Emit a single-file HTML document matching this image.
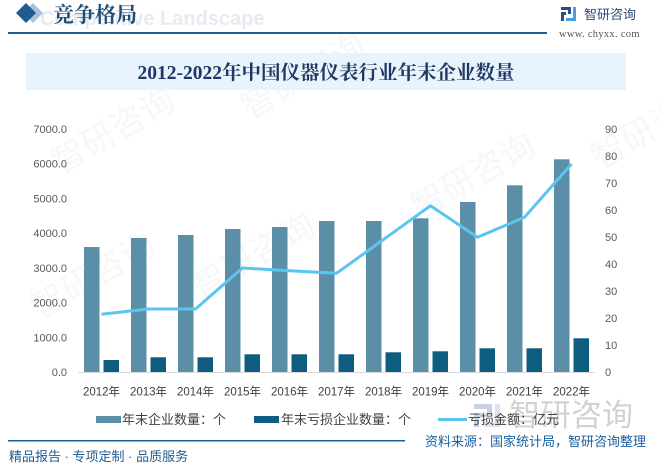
<!DOCTYPE html>
<html><head><meta charset="utf-8"><style>
html,body{margin:0;padding:0;background:#fff;}
svg{display:block;}
</style></head><body>
<svg width="660" height="465" viewBox="0 0 660 465" xmlns="http://www.w3.org/2000/svg">
<rect width="660" height="465" fill="#ffffff"/>
<!-- faint watermarks -->
<g opacity="0.05" fill="#2b5d9b" font-family="'Liberation Sans','Noto Sans CJK SC',sans-serif">
  <text x="60" y="175" font-size="34" transform="rotate(-30 60 175)">智研咨询</text>
  <text x="250" y="120" font-size="34" transform="rotate(-30 250 120)">智研咨询</text>
  <text x="420" y="220" font-size="34" transform="rotate(-30 420 220)">智研咨询</text>
  <text x="40" y="320" font-size="34" transform="rotate(-30 40 320)">智研咨询</text>
  <text x="200" y="300" font-size="34" transform="rotate(-30 200 300)">智研咨询</text>
  <text x="600" y="170" font-size="34" transform="rotate(-30 600 170)">智研咨询</text>
</g>
<!-- header -->
<text x="40" y="25" font-family="'Liberation Sans',sans-serif" font-weight="bold" font-size="20" fill="#e6ebf1">Competitive Landscape</text>
<path d="M33 3 L43 13 L33 23 L23 13 Z" fill="#a9c1dc"/>
<path d="M26 3 L36 13 L26 23 L16 13 Z" fill="#1f5c8f"/>
<rect x="50" y="2" width="94" height="26" fill="#ffffff" opacity="0"/>
<text x="53" y="22" font-family="'Noto Serif CJK SC',serif" font-weight="bold" font-size="21" fill="#1f4e79">竞争格局</text>
<rect x="8" y="32" width="539" height="2" fill="#1f5c8f"/>
<!-- logo top right -->
<g>
  <rect x="561" y="7" width="10" height="3" fill="#2a4f8f"/>
  <rect x="568" y="7" width="3" height="7" fill="#2a4f8f"/>
  <rect x="561" y="12" width="5" height="3" fill="#2a4f8f"/>
  <rect x="561" y="12" width="3" height="9" fill="#2a4f8f"/>
  <rect x="566" y="18" width="9" height="3" fill="#4a9ee0"/>
  <rect x="573" y="7" width="3" height="14" fill="#4a9ee0"/>
</g>
<text x="584" y="19" font-family="'Liberation Sans','Noto Sans CJK SC',sans-serif" font-size="13" fill="#2e4a7a">智研咨询</text>
<text x="559" y="37" font-family="'Liberation Serif',serif" font-size="10.5" fill="#555" letter-spacing="0.3">www. chyxx. com</text>
<!-- title box -->
<rect x="26" y="53" width="600" height="37" fill="#e9f3fb"/>
<text x="326" y="79" text-anchor="middle" font-family="'Liberation Serif','Noto Serif CJK SC',serif" font-weight="bold" font-size="19.5" fill="#1f3864">2012-2022年中国仪器仪表行业年末企业数量</text>
<!-- axes labels left -->
<g font-family="'Liberation Sans',sans-serif" font-size="11" fill="#595959" text-anchor="end">
  <text x="67" y="376">0.0</text>
  <text x="67" y="341.3">1000.0</text>
  <text x="67" y="306.6">2000.0</text>
  <text x="67" y="271.9">3000.0</text>
  <text x="67" y="237.2">4000.0</text>
  <text x="67" y="202.4">5000.0</text>
  <text x="67" y="167.7">6000.0</text>
  <text x="67" y="133">7000.0</text>
</g>
<g font-family="'Liberation Sans',sans-serif" font-size="11" fill="#595959">
  <text x="605" y="376">0</text>
  <text x="605" y="349">10</text>
  <text x="605" y="322">20</text>
  <text x="605" y="295">30</text>
  <text x="605" y="268">40</text>
  <text x="605" y="241">50</text>
  <text x="605" y="214">60</text>
  <text x="605" y="187">70</text>
  <text x="605" y="160">80</text>
  <text x="605" y="133">90</text>
</g>
<!-- bars big -->
<g fill="#5b8fa8">
  <rect x="84" y="247" width="15.5" height="125"/>
  <rect x="131" y="238" width="15.5" height="134"/>
  <rect x="178" y="235" width="15.5" height="137"/>
  <rect x="225" y="229" width="15.5" height="143"/>
  <rect x="272" y="227" width="15.5" height="145"/>
  <rect x="319" y="221" width="15.5" height="151"/>
  <rect x="366" y="221" width="15.5" height="151"/>
  <rect x="413" y="218.3" width="15.5" height="153.7"/>
  <rect x="460" y="202" width="15.5" height="170"/>
  <rect x="507" y="185.3" width="15.5" height="186.7"/>
  <rect x="554" y="159.3" width="15.5" height="212.7"/>
</g>
<g fill="#0e5c80">
  <rect x="103.5" y="360" width="15.5" height="12"/>
  <rect x="150.5" y="357.3" width="15.5" height="14.7"/>
  <rect x="197.5" y="357.3" width="15.5" height="14.7"/>
  <rect x="244.5" y="354.3" width="15.5" height="17.7"/>
  <rect x="291.5" y="354.3" width="15.5" height="17.7"/>
  <rect x="338.5" y="354.3" width="15.5" height="17.7"/>
  <rect x="385.5" y="352.3" width="15.5" height="19.7"/>
  <rect x="432.5" y="351.3" width="15.5" height="20.7"/>
  <rect x="479.5" y="348.3" width="15.5" height="23.7"/>
  <rect x="526.5" y="348.3" width="15.5" height="23.7"/>
  <rect x="573.5" y="338.3" width="15.5" height="33.7"/>
</g>
<line x1="78" y1="372.5" x2="595" y2="372.5" stroke="#d9d9d9" stroke-width="1"/>
<polyline fill="none" stroke="#5bc5f0" stroke-width="3" stroke-linejoin="round" points="101.5,314.3 148.5,309 195.5,309 242.5,268 289.5,270.7 336.5,273.3 383.5,239.5 430.5,205.7 477.5,237.3 524.5,217.3 571.5,164"/>
<!-- x labels -->
<g font-family="'Liberation Sans','Noto Sans CJK SC',sans-serif" font-size="11.5" fill="#404040" text-anchor="middle">
  <text x="101.5" y="395.5">2012年</text>
  <text x="148.5" y="395.5">2013年</text>
  <text x="195.5" y="395.5">2014年</text>
  <text x="242.5" y="395.5">2015年</text>
  <text x="289.5" y="395.5">2016年</text>
  <text x="336.5" y="395.5">2017年</text>
  <text x="383.5" y="395.5">2018年</text>
  <text x="430.5" y="395.5">2019年</text>
  <text x="477.5" y="395.5">2020年</text>
  <text x="524.5" y="395.5">2021年</text>
  <text x="571.5" y="395.5">2022年</text>
</g>
<!-- big watermark logo bottom right -->
<g opacity="0.5">
  <rect x="474" y="404" width="18" height="5" fill="#8fa6c8"/>
  <rect x="487" y="404" width="5" height="11" fill="#8fa6c8"/>
  <rect x="474" y="413" width="9" height="4" fill="#8fa6c8"/>
  <rect x="474" y="413" width="5" height="14" fill="#8fa6c8"/>
  <rect x="484" y="422" width="16" height="5" fill="#b9c8dc"/>
  <rect x="495" y="404" width="5" height="23" fill="#b9c8dc"/>
</g>
<text x="509" y="426" font-family="'Liberation Sans','Noto Sans CJK SC',sans-serif" font-size="31" fill="#c9c9c9" opacity="0.85">智研咨询</text>
<!-- legend -->
<rect x="96" y="416" width="25" height="7" fill="#5b8fa8"/>
<text x="122" y="424" font-family="'Liberation Sans','Noto Sans CJK SC',sans-serif" font-size="13" fill="#404040">年末企业数量：个</text>
<rect x="254" y="416" width="25" height="7" fill="#0e5c80"/>
<text x="281" y="424" font-family="'Liberation Sans','Noto Sans CJK SC',sans-serif" font-size="13" fill="#404040">年末亏损企业数量：个</text>
<rect x="438" y="418" width="29" height="3" fill="#5bc5f0"/>
<text x="468" y="424" font-family="'Liberation Sans','Noto Sans CJK SC',sans-serif" font-size="13" fill="#404040">亏损金额：亿元</text>
<!-- footer -->
<rect x="8" y="440" width="397" height="1.5" fill="#1f5c8f"/>
<text x="425" y="446" font-family="'Liberation Sans','Noto Sans CJK SC',sans-serif" font-size="13" fill="#1a5fa0">资料来源：国家统计局，智研咨询整理</text>
<text x="9" y="461" font-family="'Liberation Sans','Noto Sans CJK SC',sans-serif" font-size="13" fill="#1f5c8f">精品报告 · 专项定制 · 品质服务</text>
</svg>
</body></html>
